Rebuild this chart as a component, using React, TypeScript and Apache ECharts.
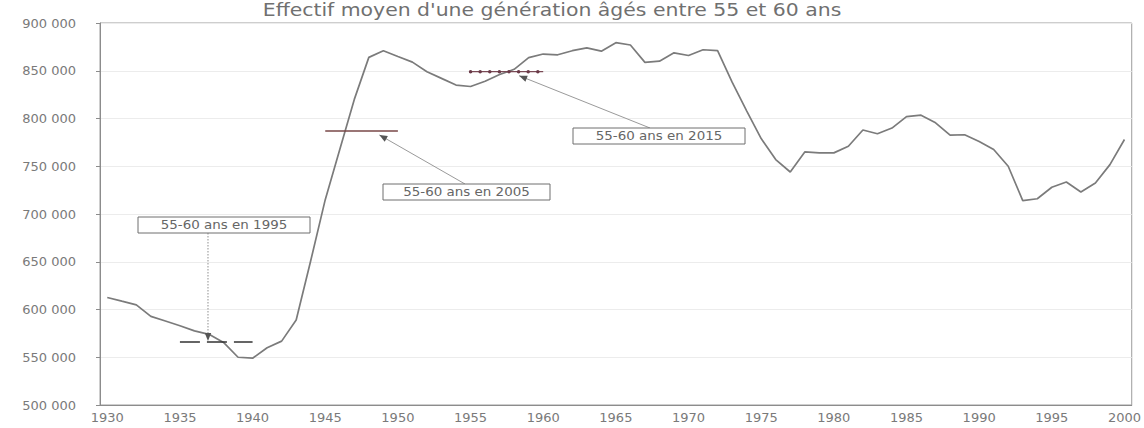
import React, { useEffect, useRef } from "react";
import * as echarts from "echarts";

// Categories: birth years 1930–2000
const years: string[] = Array.from({ length: 71 }, (_, i) => String(1930 + i));

// Effectif moyen d'une génération
const population: number[] = [
  612600, 608700, 604900, 592800, 588000, 583000, 577600, 574000, 565500, 550000, // 1930-1939
  549000, 560000, 566900, 589000, 651000, 715000, 767600, 820000, 864000, 870900, // 1940-1949
  864900, 859000, 849000, 842000, 835000, 833500, 839000, 846000, 851500, 863700, // 1950-1959
  867500, 866700, 871000, 874000, 870500, 879400, 877000, 858800, 860000, 868800, // 1960-1969
  866000, 872000, 871000, 838000, 808000, 779000, 757000, 744000, 765000, 764000, // 1970-1979
  764000, 771000, 788000, 784000, 790000, 802000, 803500, 795500, 782500, 783000, // 1980-1989
  776000, 767500, 750000, 714000, 716000, 728000, 733500, 723000, 732500, 751700, // 1990-1999
  778000, // 2000
];

// Cohort averages (55-60 ans en 1995 / 2005 / 2015)
const cohort1995Years = ["1935", "1936", "1937", "1938", "1939", "1940"];
const cohort1995Value = 566000;
const cohort2005Years = ["1945", "1946", "1947", "1948", "1949", "1950"];
const cohort2005Value = 787000;
const cohort2015Years = ["1955", "1956", "1957", "1958", "1959", "1960"];
const cohort2015Value = 849000;

const annotationLabels = ["55-60 ans en 1995", "55-60 ans en 2005", "55-60 ans en 2015"];
const titleText = "Effectif moyen d'une génération âgés entre 55 et 60 ans";

const yTicks = { min: 500000, max: 900000, interval: 50000 };

const fmt = (v: number) => String(v).replace(/\B(?=(\d{3})+(?!\d))/g, " ");

export default function App() {
  const ref = useRef<HTMLDivElement>(null);

  useEffect(() => {
    if (!ref.current) return;
    const chart = echarts.init(ref.current, null, { renderer: "svg" });
    const font = "DejaVu Sans";
    chart.setOption({
      animation: false,
      backgroundColor: "#ffffff",
      grid: {
        left: 100,
        right: 11,
        top: 23,
        bottom: 23,
        show: true,
        borderColor: "#9c9c9c",
        borderWidth: 1,
        backgroundColor: "transparent",
      },
      xAxis: {
        type: "category",
        data: years,
        boundaryGap: true,
        axisLine: { lineStyle: { color: "#8c8c8c", width: 1 } },
        axisTick: { interval: 4, length: 4, lineStyle: { color: "#8c8c8c" } },
        axisLabel: {
          interval: 4,
          color: "#7a7a7a",
          fontFamily: font,
          fontSize: 13,
          margin: 6,
        },
        splitLine: { show: false },
      },
      yAxis: {
        type: "value",
        min: yTicks.min,
        max: yTicks.max,
        interval: yTicks.interval,
        axisLine: { show: true, lineStyle: { color: "#8c8c8c", width: 1 } },
        axisTick: { show: true, length: 4, lineStyle: { color: "#8c8c8c" } },
        axisLabel: {
          color: "#7a7a7a",
          fontFamily: font,
          fontSize: 13,
          margin: 24,
          formatter: (v: number) => fmt(v),
        },
        splitLine: { show: true, lineStyle: { color: "#ececec", width: 1 } },
      },
      series: [
        {
          type: "line",
          name: "Effectif",
          data: population,
          symbol: "none",
          lineStyle: { color: "#7b7b7b", width: 1.7 },
          z: 3,
        },
        {
          type: "line",
          name: "1995",
          data: cohort1995Years.map((y) => [y, cohort1995Value]),
          symbol: "none",
          lineStyle: { color: "#333333", width: 1.5, type: [20, 7] },
          z: 4,
        },
        {
          type: "line",
          name: "2005",
          data: cohort2005Years.map((y) => [y, cohort2005Value]),
          symbol: "none",
          lineStyle: { color: "#7a4848", width: 1.5 },
          z: 4,
        },
        {
          type: "line",
          name: "2015",
          data: cohort2015Years.map((y) => [y, cohort2015Value]),
          symbol: "none",
          lineStyle: { color: "#7a4a55", width: 1.3 },
          z: 4,
        },
        {
          type: "line",
          name: "2015-dots",
          data: cohort2015Years.map((y) => [y, cohort2015Value]),
          symbol: "none",
          lineStyle: { color: "#6a3a48", width: 3.5, type: [0.01, 9.6], cap: "round" },
          z: 5,
        },
      ],
    });

    const p = (idx: number, v: number) =>
      chart.convertToPixel({ gridIndex: 0 }, [idx, v]) as number[];

    const arrowHead = (sx: number, sy: number, tx: number, ty: number) => {
      const dx = tx - sx;
      const dy = ty - sy;
      const len = Math.sqrt(dx * dx + dy * dy) || 1;
      const ux = dx / len;
      const uy = dy / len;
      const L = 8;
      const W = 3.2;
      const bx = tx - ux * L;
      const by = ty - uy * L;
      return [
        [tx, ty],
        [bx - uy * W, by + ux * W],
        [bx + uy * W, by - ux * W],
      ];
    };

    const t1 = p(7, cohort1995Value);
    const tip1 = [t1[0] - 1, t1[1] - 1];
    const t2 = p(19, cohort2005Value);
    const tip2 = [t2[0] - 4, t2[1] + 4];
    const t3 = p(28, cohort2015Value);
    const tip3 = [t3[0] + 5, t3[1] + 4];

    const boxes = [
      { x: 138, y: 217, w: 172, h: 16, label: annotationLabels[0] },
      { x: 383, y: 184, w: 167, h: 16, label: annotationLabels[1] },
      { x: 573, y: 128, w: 172, h: 16, label: annotationLabels[2] },
    ];

    const start1 = [tip1[0], boxes[0].y + boxes[0].h];
    const start2 = [465, boxes[1].y];
    const start3 = [650, boxes[2].y];

    const graphic: any[] = [
      {
        type: "text",
        x: 552,
        y: 10,
        scaleX: 1.2,
        style: {
          text: titleText,
          fill: "#707070",
          font: `17px ${font}`,
          align: "center",
          verticalAlign: "middle",
        },
      },
      // arrows
      {
        type: "line",
        shape: { x1: start1[0], y1: start1[1], x2: tip1[0], y2: tip1[1] - 6 },
        style: { stroke: "#8f8f8f", lineWidth: 1, lineDash: [1.5, 1.5] },
        z: 10,
      },
      {
        type: "polygon",
        shape: { points: arrowHead(start1[0], start1[1], tip1[0], tip1[1]) },
        style: { fill: "#555555" },
        z: 10,
      },
      {
        type: "line",
        shape: { x1: start2[0], y1: start2[1], x2: tip2[0], y2: tip2[1] },
        style: { stroke: "#9a9a9a", lineWidth: 1 },
        z: 10,
      },
      {
        type: "polygon",
        shape: { points: arrowHead(start2[0], start2[1], tip2[0], tip2[1]) },
        style: { fill: "#555555" },
        z: 10,
      },
      {
        type: "line",
        shape: { x1: start3[0], y1: start3[1], x2: tip3[0], y2: tip3[1] },
        style: { stroke: "#9a9a9a", lineWidth: 1 },
        z: 10,
      },
      {
        type: "polygon",
        shape: { points: arrowHead(start3[0], start3[1], tip3[0], tip3[1]) },
        style: { fill: "#555555" },
        z: 10,
      },
    ];

    boxes.forEach((b) => {
      graphic.push({
        type: "rect",
        shape: { x: b.x, y: b.y, width: b.w, height: b.h },
        style: { fill: "#ffffff", stroke: "#6f6f6f", lineWidth: 1 },
        z: 11,
      });
      graphic.push({
        type: "text",
        x: b.x + b.w / 2,
        y: b.y + b.h / 2,
        scaleX: 1.12,
        style: {
          text: b.label,
          fill: "#666666",
          font: `12px ${font}`,
          align: "center",
          verticalAlign: "middle",
        },
        z: 12,
      });
    });

    chart.setOption({ graphic });

    return () => chart.dispose();
  }, []);

  return (
    <div
      ref={ref}
      style={{ position: "fixed", left: 0, top: 0, width: 1144, height: 428, background: "#fff" }}
    />
  );
}
